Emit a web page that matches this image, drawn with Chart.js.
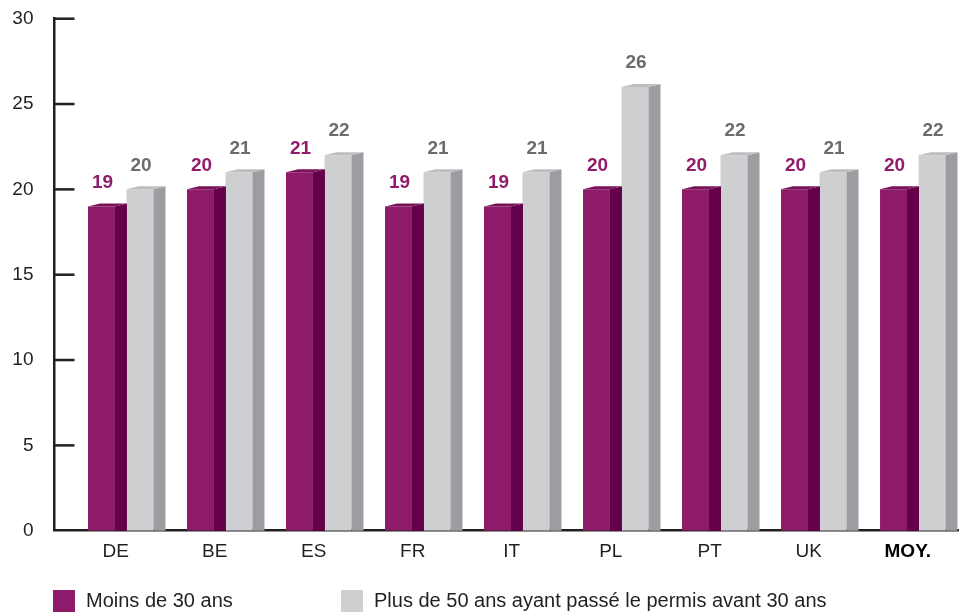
<!DOCTYPE html>
<html>
<head>
<meta charset="utf-8">
<script src="https://cdn.jsdelivr.net/npm/chart.js@4"></script>
<style>
html, body { margin: 0; padding: 0; background: #fff; overflow: hidden; }
</style>
</head>
<body>
<canvas id="chart" width="959" height="616"></canvas>
<script>
// Données
const pays = ['DE', 'BE', 'ES', 'FR', 'IT', 'PL', 'PT', 'UK', 'MOY.'];
const moins30 = [19, 20, 21, 19, 19, 20, 20, 20, 20];
const plus50 = [20, 21, 22, 21, 21, 26, 22, 21, 22];
const yMax = 30;
const yStep = 5;

const INK = '#231f20';
const FONT = '"Liberation Sans", Arial, Helvetica, sans-serif';
Chart.defaults.font.family = FONT;

// faces latérales et dessus des barres (effet 3D)
const depth = {
  id: 'depth',
  afterDatasetsDraw(chart, args, opts) {
    const ctx = chart.ctx;
    ctx.save();
    chart.data.datasets.forEach((ds, i) => {
      const face = opts.faces[i];
      chart.getDatasetMeta(i).data.forEach(bar => {
        const {x, y, base, width} = bar.getProps(['x', 'y', 'base', 'width'], true);
        const l = x - width / 2, r = x + width / 2;
        ctx.fillStyle = face.side;
        ctx.beginPath();
        ctx.moveTo(r, y);
        ctx.lineTo(r + opts.dx, y - opts.dy);
        ctx.lineTo(r + opts.dx, base);
        ctx.lineTo(r, base);
        ctx.closePath();
        ctx.fill();
        ctx.fillStyle = face.top;
        ctx.beginPath();
        ctx.moveTo(l, y);
        ctx.lineTo(l + opts.dx, y - opts.dy);
        ctx.lineTo(r + opts.dx, y - opts.dy);
        ctx.lineTo(r, y);
        ctx.closePath();
        ctx.fill();
      });
    });
    ctx.restore();
  }
};

// valeurs au-dessus des barres
const valeurs = {
  id: 'valeurs',
  afterDatasetsDraw(chart, args, opts) {
    const ctx = chart.ctx;
    ctx.save();
    ctx.font = 'bold 19px ' + FONT;
    ctx.textAlign = 'center';
    ctx.textBaseline = 'middle';
    chart.data.datasets.forEach((ds, i) => {
      ctx.fillStyle = opts.colors[i];
      chart.getDatasetMeta(i).data.forEach((bar, j) => {
        ctx.fillText(String(ds.data[j].y), bar.x + 1, bar.y - 24);
      });
    });
    ctx.restore();
  }
};

// petits traits de graduation vers l'intérieur + légende
const axeEtLegende = {
  id: 'axeEtLegende',
  afterDraw(chart, args, opts) {
    const ctx = chart.ctx;
    const y = chart.scales.y;
    const left = chart.chartArea.left;
    ctx.save();
    ctx.strokeStyle = INK;
    ctx.lineWidth = 2.5;
    y.ticks.forEach(t => {
      if (t.value === 0) return;
      const py = y.getPixelForValue(t.value);
      ctx.beginPath();
      ctx.moveTo(left, py);
      ctx.lineTo(left + 20, py);
      ctx.stroke();
    });

    ctx.font = '20px ' + FONT;
    ctx.textBaseline = 'middle';
    ctx.textAlign = 'left';
    chart.data.datasets.forEach((ds, i) => {
      const x = opts.xs[i];
      ctx.fillStyle = ds.backgroundColor;
      ctx.fillRect(x, opts.top, 22, 22);
      ctx.fillStyle = INK;
      ctx.fillText(ds.label, x + 33, opts.top + 11.5);
    });
    ctx.restore();
  }
};

new Chart(document.getElementById('chart'), {
  type: 'bar',
  data: {
    datasets: [
      {
        label: 'Moins de 30 ans',
        data: moins30.map((v, i) => ({x: i, y: v})),
        backgroundColor: '#8e1b69'
      },
      {
        label: 'Plus de 50 ans ayant passé le permis avant 30 ans',
        data: plus50.map((v, i) => ({x: i, y: v})),
        backgroundColor: '#cecfd1'
      }
    ]
  },
  options: {
    responsive: false,
    animation: false,
    devicePixelRatio: 1,
    categoryPercentage: 0.778,
    barPercentage: 0.70,
    layout: { padding: { top: 18.7, right: 0, bottom: 45.3, left: 0 } },
    scales: {
      x: {
        type: 'linear',
        offset: false,
        min: -0.669,
        max: 8.467,
        z: 1,
        grid: { display: false, drawTicks: false },
        border: { display: true, color: INK, width: 2.5 },
        ticks: {
          stepSize: 1,
          includeBounds: false,
          autoSkip: false,
          maxRotation: 0,
          padding: 10,
          labelOffset: -5,
          callback: v => pays[v],
          color: c => c.index === pays.length - 1 ? '#000' : INK,
          font: c => c.index === pays.length - 1
            ? { size: 19, weight: 'bold' }
            : { size: 19 }
        },
        afterFit: s => { s.height = 40; }
      },
      y: {
        min: 0,
        max: yMax,
        grid: { display: false, drawTicks: false },
        border: { display: true, color: INK, width: 2.5 },
        ticks: { stepSize: yStep, padding: 21, color: INK, font: { size: 19 } },
        afterFit: s => {
          s.width = 54.5;
          s.paddingTop = 0;
          s.paddingBottom = 0;
        }
      }
    },
    plugins: {
      legend: { display: false },
      tooltip: { enabled: false },
      depth: {
        dx: 12,
        dy: 3,
        faces: [
          { side: '#640049', top: '#7a1259' },
          { side: '#9b9da0', top: '#bdbec0' }
        ]
      },
      valeurs: { colors: ['#901c6b', '#6b6c6e'] },
      axeEtLegende: { xs: [53, 341], top: 590 }
    }
  },
  plugins: [depth, valeurs, axeEtLegende]
});
</script>
</body>
</html>
